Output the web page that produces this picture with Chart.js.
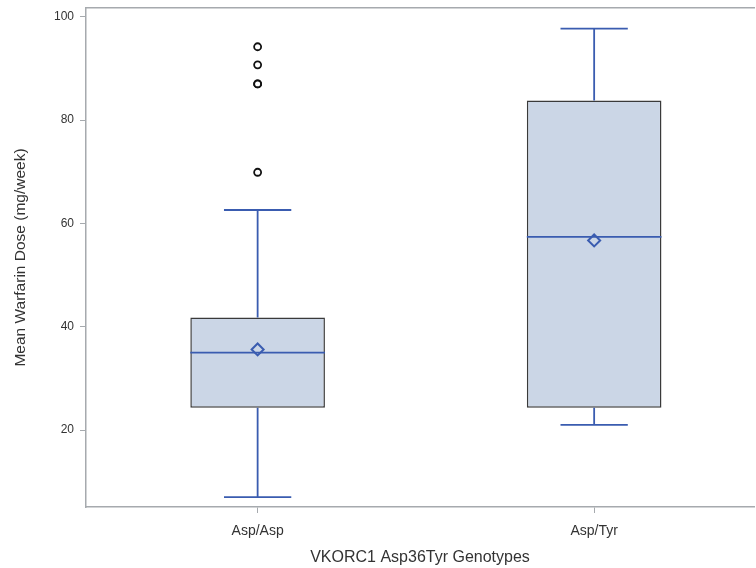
<!DOCTYPE html>
<html>
<head>
<meta charset="utf-8">
<script src="https://cdn.jsdelivr.net/npm/chart.js@4/dist/chart.umd.min.js"></script>
<style>
html,body{margin:0;padding:0;background:#fff;overflow:hidden;}
#wrap{width:756px;height:568px;overflow:hidden;}
</style>
</head>
<body>
<div id="wrap"><canvas id="c" width="762" height="568"></canvas></div>
<script>
// ---- data ----
const categories = ['Asp/Asp', 'Asp/Tyr'];
const whiskerLow = [7.0, 21.0];
const q1 = [24.3, 24.3];
const median = [35.0, 57.4];
const q3 = [41.8, 83.8];
const whiskerHigh = [62.6, 97.7];
const means = [35.6, 56.7];
const outliersAspAsp = [94.2, 90.7, 87.0, 87.0, 69.9];
const outliersAspTyr = [];
const yTicks = [20, 40, 60, 80, 100];

// ---- styling constants ----
const BOX_HALF = 0.2;   // half box width in category units
const CAP_HALF = 0.1;   // half whisker cap width
const BLUE = '#3a5cb0';
const FRAME = '#a6aaae';
const TXT = '#333333';
const FONT = "'Liberation Sans', Arial, sans-serif";

const outlierSets = [outliersAspAsp, outliersAspTyr];

const boxData = categories.map((c, i) => ({x: i, y: [q1[i], q3[i]]}));
const whiskerData = [];
const medianData = [];
categories.forEach((c, i) => {
  whiskerData.push({x: i, y: q3[i]}, {x: i, y: whiskerHigh[i]}, {x: i, y: null});
  whiskerData.push({x: i - CAP_HALF, y: whiskerHigh[i]}, {x: i + CAP_HALF, y: whiskerHigh[i]}, {x: i, y: null});
  whiskerData.push({x: i, y: q1[i]}, {x: i, y: whiskerLow[i]}, {x: i, y: null});
  whiskerData.push({x: i - CAP_HALF, y: whiskerLow[i]}, {x: i + CAP_HALF, y: whiskerLow[i]}, {x: i, y: null});
  medianData.push({x: i - BOX_HALF, y: median[i]}, {x: i + BOX_HALF, y: median[i]}, {x: i, y: null});
});
const meanData = categories.map((c, i) => ({x: i, y: means[i]}));
const outlierData = [];
outlierSets.forEach((arr, i) => arr.forEach(v => outlierData.push({x: i, y: v})));

new Chart(document.getElementById('c'), {
  data: {
    datasets: [
      {
        type: 'bar', data: boxData,
        backgroundColor: '#cbd6e6', borderColor: '#3a3a3a', borderWidth: 1.5,
        borderSkipped: false, barPercentage: 2 * BOX_HALF, categoryPercentage: 1,
        order: 5
      },
      {
        type: 'scatter', data: whiskerData, showLine: true, spanGaps: false,
        borderColor: BLUE, borderWidth: 1.8, pointRadius: 0, order: 4
      },
      {
        type: 'scatter', data: medianData, showLine: true, spanGaps: false,
        borderColor: BLUE, borderWidth: 1.8, pointRadius: 0, order: 3
      },
      {
        type: 'scatter', data: meanData, pointStyle: 'rectRot', pointRadius: 6,
        borderColor: BLUE, borderWidth: 2, backgroundColor: 'rgba(0,0,0,0)', order: 2
      },
      {
        type: 'scatter', data: outlierData, pointStyle: 'circle', pointRadius: 3.5,
        borderColor: '#111', borderWidth: 1.8, backgroundColor: 'rgba(255,255,255,0)', order: 1
      }
    ]
  },
  options: {
    responsive: false,
    animation: false,
    devicePixelRatio: 1,
    layout: {padding: 0},
    plugins: {legend: {display: false}, tooltip: {enabled: false}},
    scales: {
      x: {
        type: 'linear', position: 'bottom', offset: false,
        min: -0.51, max: 1.475,
        afterBuildTicks: s => { s.ticks = categories.map((c, i) => ({value: i})); },
        afterFit: s => { s.height = 61; s.paddingLeft = 0; s.paddingRight = 0; },
        ticks: {
          callback: v => categories[v] ?? '',
          color: TXT, font: {family: FONT, size: 14}, padding: 10, maxRotation: 0
        },
        grid: {drawOnChartArea: false, drawTicks: true, tickLength: 6, color: FRAME, lineWidth: 1, offset: false},
        border: {display: true, color: FRAME, width: 1.5},
        title: {display: true, text: 'VKORC1 Asp36Tyr Genotypes', color: TXT,
                font: {family: FONT, size: 16}, padding: {top: 2, bottom: 1}}
      },
      x2: {
        type: 'linear', position: 'top', min: 0, max: 1, offset: false,
        afterFit: s => { s.height = 8; s.paddingLeft = 0; s.paddingRight = 0; },
        ticks: {display: false},
        grid: {display: false},
        border: {display: true, color: FRAME, width: 1.5}
      },
      y: {
        type: 'linear', position: 'left',
        min: 5.1, max: 101.7,
        afterBuildTicks: s => { s.ticks = yTicks.map(v => ({value: v})); },
        afterFit: s => { s.width = 86; s.paddingTop = 0; s.paddingBottom = 0; },
        ticks: {color: TXT, font: {family: FONT, size: 12}, padding: 6},
        grid: {drawOnChartArea: false, drawTicks: true, tickLength: 6, color: FRAME, lineWidth: 1},
        border: {display: true, color: FRAME, width: 1.5},
        title: {display: true, text: 'Mean Warfarin Dose (mg/week)', color: TXT,
                font: {family: FONT, size: 15.5}, padding: {top: 11, bottom: 4}}
      }
    }
  }
});
</script>
</body>
</html>
